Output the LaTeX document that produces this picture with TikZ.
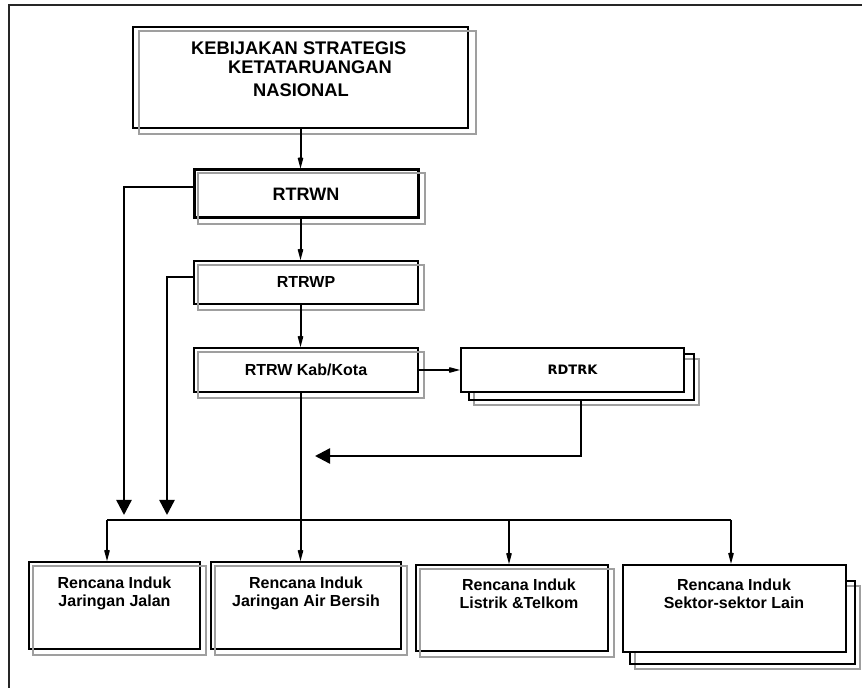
\documentclass[tikz,border=0pt]{standalone}
\usepackage{fontspec}
\setmainfont{Liberation Sans}
\newfontfamily\dejabold{DejaVu Sans}
\usetikzlibrary{arrows.meta,backgrounds}

\tikzset{
  box/.style={draw=black, line width=2pt, inner sep=0pt},
  ghost/.style={draw=gray!75, line width=2pt},
  boxtext/.style={inner sep=0pt, align=center, font=\bfseries\fontsize{16}{18}\selectfont},
  feed/.style={line width=2pt, -{Stealth[length=22pt,width=12pt,inset=13pt]}},
  pull/.style={line width=2.4pt, -{Triangle[length=15pt,width=15pt]}}
}

\begin{document}
\begin{tikzpicture}[x=1pt,y=1pt]
    \useasboundingbox (0,0) rectangle (862,688);
    % frame
    \draw[line width=2pt, black!85] (862,683) -- (9,683) -- (9,0);

    % boxes
    \node[box, minimum width=335pt, minimum height=101pt] (kebijakan) at (300.5,610.5) {};
    \node[anchor=north west, inner sep=0pt, align=left, font=\bfseries\fontsize{18.3}{19}\selectfont] (kebijakan-t) at (191,646)
        {KEBIJAKAN STRATEGIS\\\hspace*{37pt}KETATARUANGAN\\[4pt]\hspace*{62pt}NASIONAL};
    \node[box, line width=3pt, minimum width=224pt, minimum height=48pt, font=\bfseries\fontsize{18}{20}\selectfont] (rtrwn) at (306,494) {RTRWN};
    \node[box, minimum width=224pt, minimum height=43pt, font=\bfseries\fontsize{16}{18}\selectfont] (rtrwp) at (306,405.5) {RTRWP};
    \node[box, minimum width=224pt, minimum height=44pt, font=\bfseries\fontsize{16}{18}\selectfont] (kabkota) at (306,318) {RTRW Kab/Kota};
    \node[box, fill=white, minimum width=223pt, minimum height=44pt, font=\dejabold\bfseries\fontsize{13}{14}\selectfont] (rdtrk) at (572.5,318) {RDTRK};

    \node[box, minimum width=171pt, minimum height=87pt] (jalan) at (114.5,82.5) {};
    \node[box, minimum width=190pt, minimum height=87pt] (air) at (306,82.5) {};
    \node[box, minimum width=192pt, minimum height=86pt] (listrik) at (512,80) {};
    \node[box, line width=2.5pt, fill=white, minimum width=223pt, minimum height=87pt] (sektor) at (734.5,79.5) {};
    \node[boxtext, anchor=north] (jalan-t) at (114.5,111) {Rencana Induk\\Jaringan Jalan};
    \node[boxtext, anchor=north] (air-t) at (306,111) {Rencana Induk\\Jaringan Air Bersih};
    \node[boxtext, anchor=north] (listrik-t) at (519,109) {Rencana Induk\\Listrik \&Telkom};
    \node[boxtext, anchor=north] (sektor-t) at (734,109) {Rencana Induk\\Sektor-sektor Lain};

    % shadows
    \foreach \n/\dx/\dy in {kebijakan/7/5, rtrwn/5/5, rtrwp/5/5, kabkota/5/5, jalan/5/5, air/5/5, listrik/5/5}{
        \draw[ghost] ([shift={(\dx,-\dy)}]\n.north west) rectangle ([shift={(\dx,-\dy)}]\n.south east);
    }
    \begin{scope}[on background layer]
        \draw[ghost] ([shift={(14,-12)}]rdtrk.north west) rectangle ([shift={(14,-12)}]rdtrk.south east);
        \draw[box] ([shift={(9,-7)}]rdtrk.north west) rectangle ([shift={(9,-7)}]rdtrk.south east);
        \draw[ghost] ([shift={(13,-22)}]sektor.north west) rectangle ([shift={(13,-16)}]sektor.south east);
        \draw[box] ([shift={(8,-17)}]sektor.north west) rectangle ([shift={(8,-11)}]sektor.south east);
    \end{scope}

    % connectors
    \draw[feed] (kebijakan.south) -- (kebijakan.south |- rtrwn.north);
    \draw[feed] (rtrwn.south -| kebijakan.south) -- (rtrwp.north -| kebijakan.south);
    \draw[feed] (rtrwp.south -| kebijakan.south) -- (kabkota.north -| kebijakan.south);
    \draw[feed] (kabkota.east) -- (rdtrk.west);
    \draw[feed] (kabkota.south -| kebijakan.south) -- (air.north -| kebijakan.south);

    \coordinate (balik) at (315,232);
    \draw[pull] ([shift={(8.5,-7)}]rdtrk.south) |- (balik);
    \coordinate (turunN) at (124,173);
    \draw[pull] ([yshift=7pt]rtrwn.west) -| (turunN);
    \coordinate (turunP) at (167,173);
    \draw[pull] ([yshift=5.5pt]rtrwp.west) -| (turunP);

    % bus
    \coordinate (busA) at (107,168);
    \coordinate (busC) at (509,168);
    \coordinate (busD) at (731,168);
    \draw[line width=2pt] (busA) -- (busD);
    \draw[feed] (busA) -- (busA |- jalan.north);
    \draw[feed] (busC) -- (busC |- listrik.north);
    \draw[feed] (busD) -- (busD |- sektor.north);
\end{tikzpicture}
\end{document}
